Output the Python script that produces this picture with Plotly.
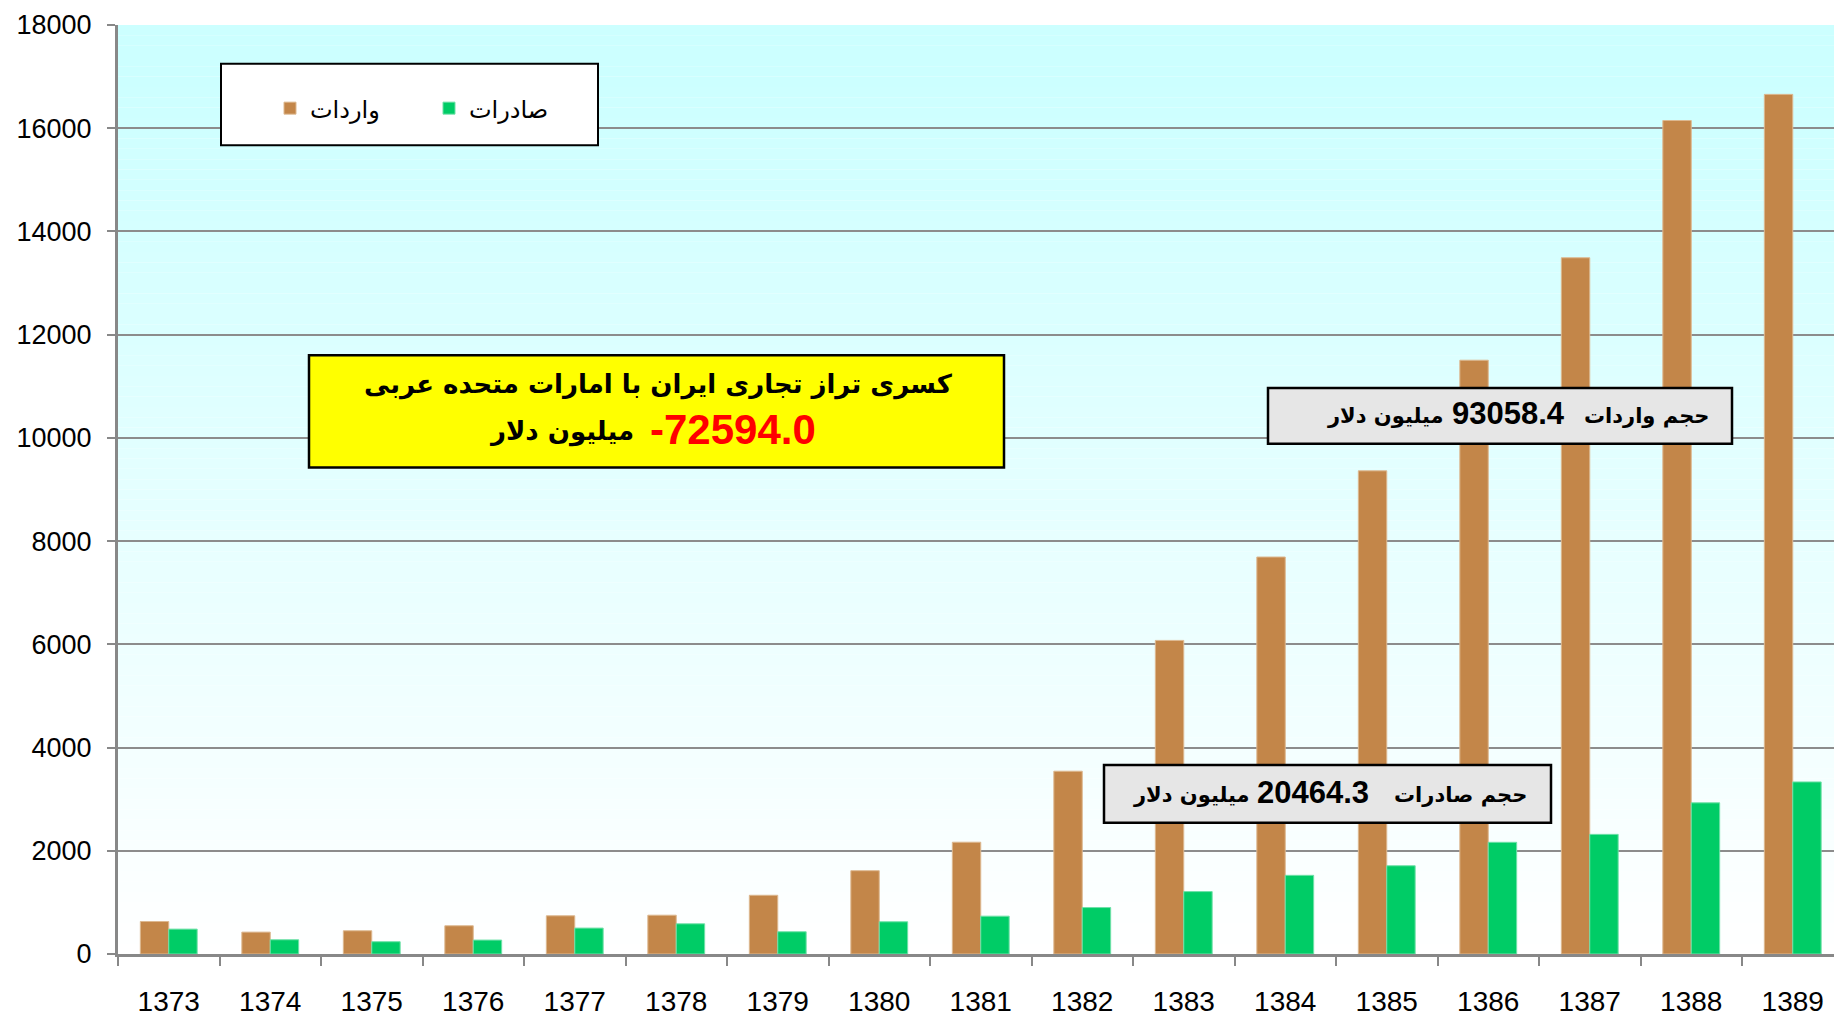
import plotly.graph_objects as go

# ---------------- data ----------------
years = ["1373", "1374", "1375", "1376", "1377", "1378", "1379", "1380", "1381",
         "1382", "1383", "1384", "1385", "1386", "1387", "1388", "1389"]
imports = [630, 424, 450, 547, 740, 752, 1138, 1614, 2166,
           3542, 6076, 7692, 9362, 11505, 13490, 16149, 16656]
exports = [482, 276, 238, 270, 502, 585, 431, 624, 733,
           900, 1209, 1524, 1710, 2164, 2318, 2929, 3334]
y_ticks = [0, 2000, 4000, 6000, 8000, 10000, 12000, 14000, 16000, 18000]

name_imports = "واردات"
name_exports = "صادرات"
title_line1 = "کسری تراز تجاری ایران با امارات متحده عربی"
deficit_value = "-72594.0"
unit_text = "میلیون دلار"
imports_label = "حجم واردات"
exports_label = "حجم صادرات"
imports_total = "93058.4"
exports_total = "20464.3"

# ---------------- layout geometry (pixels) ----------------
W, H = 1834, 1017
ML, MR, MT, MB = 118, 0, 25, 58
PW, PH = W - ML - MR, H - MT - MB
cat_px = 101.5


def px(x):
    return (x - ML) / PW


def py(y):
    return (H - MB - y) / PH


fig = go.Figure()
fig.add_trace(go.Bar(x=years, y=imports, name=name_imports,
                     marker=dict(color="#C38649", line=dict(color="#DDB890", width=1))))
fig.add_trace(go.Bar(x=years, y=exports, name=name_exports,
                     marker=dict(color="#00CC66", line=dict(color="#6FE0A8", width=1))))

shapes = []
# gradient background of plot area
n = 90
for i in range(n):
    t = i / (n - 1)  # 0 bottom -> 1 top
    f = min(1.0, t / 0.95)
    r = round(255 - (255 - 204) * f)
    shapes.append(dict(type="rect", xref="paper", yref="paper", x0=0, x1=1,
                       y0=i / n, y1=(i + 1) / n, fillcolor=f"rgb({r},255,255)",
                       line=dict(width=0), layer="below"))

# legend box
shapes.append(dict(type="rect", xref="paper", yref="paper",
                   x0=px(221), x1=px(598), y0=py(146), y1=py(64),
                   fillcolor="white", line=dict(color="black", width=2), layer="above"))
# yellow box
shapes.append(dict(type="rect", xref="paper", yref="paper",
                   x0=px(309), x1=px(1004), y0=py(470), y1=py(357),
                   fillcolor="#FFFF00", line=dict(color="black", width=2.5), layer="above"))
# gray boxes
shapes.append(dict(type="rect", xref="paper", yref="paper",
                   x0=px(1268), x1=px(1732), y0=py(446), y1=py(390),
                   fillcolor="#E6E6E6", line=dict(color="black", width=2.5), layer="above"))
shapes.append(dict(type="rect", xref="paper", yref="paper",
                   x0=px(1104), x1=px(1551), y0=py(827), y1=py(769),
                   fillcolor="#E6E6E6", line=dict(color="black", width=2.5), layer="above"))

fa = "DejaVu Sans"
num_font = "Liberation Sans, Arial"


def ann(text, cx, cy, family, size, color="black"):
    return dict(text=text, x=px(cx), y=py(cy), xref="paper", yref="paper",
                xanchor="center", yanchor="middle", align="left", showarrow=False,
                font=dict(family=family, size=size, color=color, weight="bold"))


annotations = [
    ann(title_line1, 658, 386, fa, 26),
    ann(deficit_value, 733, 432, num_font, 42, "#FF0000"),
    ann(unit_text, 561, 434, fa, 26),
    ann(unit_text, 1385, 418, fa, 21),
    ann(imports_total, 1508, 416, num_font, 31),
    ann(imports_label, 1646, 418, fa, 21),
    ann(unit_text, 1191, 799, fa, 21),
    ann(exports_total, 1313, 797, num_font, 31),
    ann(exports_label, 1460, 799, fa, 21),
]

fig.update_layout(
    width=W, height=H, autosize=False,
    margin=dict(l=ML, r=MR, t=MT, b=MB, pad=0),
    paper_bgcolor="white", plot_bgcolor="white",
    barmode="group", bargap=0.44, bargroupgap=0,
    shapes=shapes, annotations=annotations,
    legend=dict(orientation="h", x=px(270), y=py(109), xanchor="left", yanchor="middle",
                bgcolor="rgba(0,0,0,0)", font=dict(family=fa, size=24, color="black"),
                entrywidth=114, traceorder="normal"),
    font=dict(family=num_font, color="black"),
)
fig.update_xaxes(type="category", range=[-0.5, -0.5 + PW / cat_px],
                 showgrid=False, showline=True, linecolor="#888888", linewidth=3,
                 ticks="outside", tickson="boundaries", ticklen=9, tickwidth=2,
                 tickcolor="#888888", tickfont=dict(family=num_font, size=28, color="black"),
                 ticklabelstandoff=20)
fig.update_yaxes(range=[0, 18000], tickvals=y_ticks, ticktext=[str(v) for v in y_ticks],
                 showgrid=True, gridcolor="#8C8C8C", gridwidth=2, zeroline=False,
                 showline=True, linecolor="#888888", linewidth=3,
                 ticks="outside", ticklen=8, tickwidth=2, tickcolor="#888888",
                 tickfont=dict(family=num_font, size=27, color="black"),
                 ticklabelstandoff=10)

fig.write_html("out.html", config={"displayModeBar": False},
               post_script="document.body.style.margin='0';document.body.style.overflow='hidden';")
